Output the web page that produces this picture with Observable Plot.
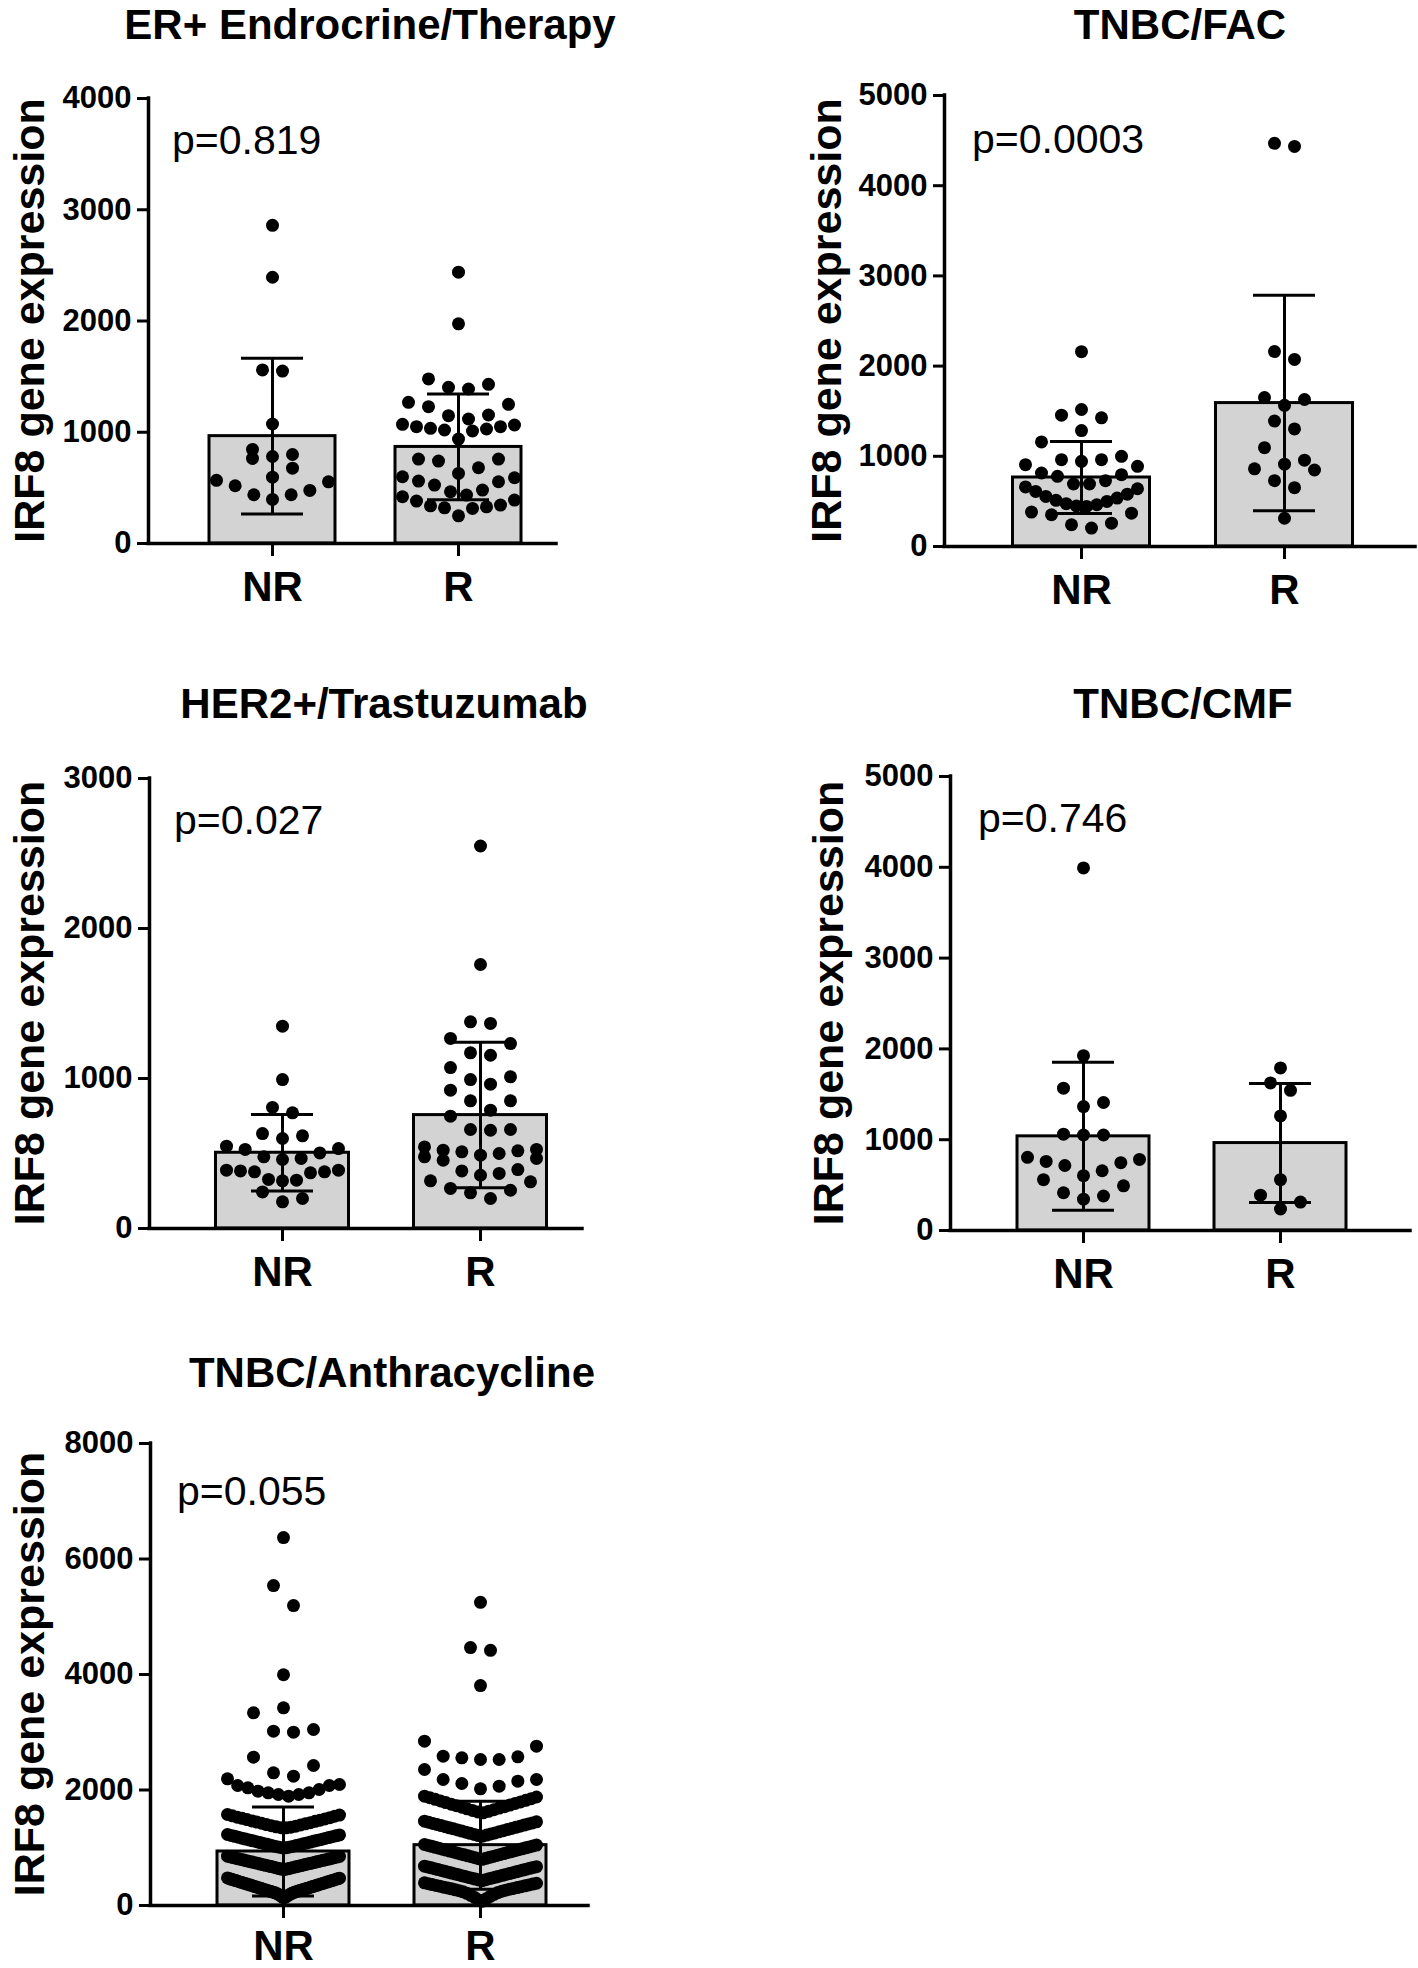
<!DOCTYPE html>
<html>
<head>
<meta charset="utf-8">
<script src="https://cdn.jsdelivr.net/npm/d3@7"></script>
<script src="https://cdn.jsdelivr.net/npm/@observablehq/plot@0.6"></script>
<style>
  html, body { margin: 0; padding: 0; background: #fff; }
  #page { position: relative; width: 1418px; height: 1968px; overflow: hidden;
          font-family: "Liberation Sans", Arial, Helvetica, sans-serif; color: #000; }
  #page svg.panel { position: absolute; overflow: visible; }
  #overlay { position: absolute; left: 0; top: 0; pointer-events: none; }
</style>
</head>
<body>
<div id="page"></div>
<script>
// ---------------- data ----------------
const groups = ["NR", "R"];
const yLabel = "IRF8 gene expression";
const titles = ["ER+ Endrocrine/Therapy", "TNBC/FAC", "HER2+/Trastuzumab", "TNBC/CMF", "TNBC/Anthracycline"];
const pValues = ["p=0.819", "p=0.0003", "p=0.027", "p=0.746", "p=0.055"];

// y-axis tick labels for each panel
const erTicks   = [0, 1000, 2000, 3000, 4000];
const facTicks  = [0, 1000, 2000, 3000, 4000, 5000];
const her2Ticks = [0, 1000, 2000, 3000];
const cmfTicks  = [0, 1000, 2000, 3000, 4000, 5000];
const anthTicks = [0, 2000, 4000, 6000, 8000];

// bar heights (mean) and error bars (SD), [NR, R]
const erMean = [965, 868],    erSD = [700, 475];
const facMean = [765, 1590],  facSD = [400, 1195];
const her2Mean = [505, 756],  her2SD = [255, 485];
const cmfMean = [1037, 963],  cmfSD = [815, 655];
const anthMean = [935, 1045], anthSD = [770, 762];

// individual samples
const erNR = [2860, 2393, 1560, 1550, 1074, 846, 800, 782, 765, 677, 596, 568, 554, 519, 477, 438, 438, 396];
const erR = [2439, 1975, 1479, 1431, 1404, 1389, 1269, 1251, 1230, 1155, 1149, 1119, 1071, 1065, 1050, 1050,
  1035, 1029, 1020, 1011, 939, 759, 759, 741, 681, 630, 600, 591, 561, 555, 525, 480, 465, 435, 420, 390,
  381, 345, 339, 330, 321, 315, 249];

const facNR = [2160, 1519, 1456, 1426, 1285, 1159, 1000, 963, 963, 944, 907, 889, 815, 796, 778, 730, 693, 693,
  660, 640, 611, 580, 555, 537, 512, 500, 475, 463, 450, 444, 382, 370, 352, 259, 241, 204];
const facR = [4470, 4435, 2161, 2074, 1652, 1630, 1565, 1391, 1304, 1096, 957, 913, 861, 848, 730, 652, 313];

const her2NR = [1349, 993, 807, 771, 633, 618, 600, 549, 533, 527, 504, 478, 467, 460, 389, 389, 384, 378, 378,
  371, 327, 322, 318, 244, 200, 178];
const her2R = [2550, 1760, 1378, 1367, 1267, 1233, 1171, 1155, 1073, 1011, 993, 962, 922, 851, 851, 789, 749,
  660, 655, 660, 544, 527, 522, 518, 511, 500, 489, 478, 467, 455, 393, 384, 367, 355, 318, 311, 267, 255, 238, 200];

const cmfNR = [3993, 1925, 1567, 1410, 1365, 1061, 1052, 1052, 806, 783, 761, 747, 716, 658, 604, 560, 492, 416, 380, 345];
const cmfR = [1790, 1625, 1544, 1262, 560, 389, 313, 237];

const anthNR = [6371, 5540, 5194, 3996, 3423, 3336, 3048, 3019, 3001, 2569, 2424, 2297, 2240, 2193,
  2095, 2078, 2078, 2038, 2009, 1980, 1951, 1951, 1922, 1922, 1893,
  1576, 1566, 1552, 1545, 1530, 1521, 1509, 1499, 1488, 1478, 1465, 1458, 1444, 1435, 1424, 1414, 1401, 1394,
  1381, 1373, 1363, 1356, 1348, 1345,
  1229, 1222, 1212, 1207, 1197, 1191, 1182, 1176, 1166, 1161, 1151, 1145, 1136, 1130, 1120, 1115, 1105, 1099,
  1090, 1084, 1074, 1069, 1059, 1053, 1044, 1038, 1028, 1023, 1013, 1009, 1001, 998,
  854, 849, 842, 838, 830, 827, 819, 816, 808, 804, 797, 793, 786, 782, 774, 771, 763, 760, 752, 748, 741, 737,
  730, 726, 718, 715, 707, 704, 696, 692, 685, 681, 674, 670, 662, 659, 651, 647, 639, 635, 627, 623,
  478, 473, 465, 462, 454, 450, 443, 439, 431, 428, 420, 417, 409, 405, 398, 394, 386, 383, 375, 372, 364, 360,
  353, 349, 342, 338, 330, 327, 319, 316, 308, 304, 297, 293, 286, 282, 274, 271, 263, 260, 252, 249, 241, 238,
  230, 227, 219, 211, 204, 192, 183, 169, 159, 145, 135];
const anthR = [5249, 4467, 4418, 3809, 2846, 2759, 2586, 2574, 2557, 2528, 2528, 2355, 2182, 2182, 2153, 2113, 2066, 2020,
  1893, 1879, 1867, 1850, 1839, 1821, 1810, 1794, 1782, 1767, 1755, 1739, 1728, 1712, 1701, 1687, 1674, 1659,
  1647, 1631, 1620, 1605,
  1460, 1449, 1442, 1430, 1422, 1411, 1403, 1392, 1384, 1372, 1365, 1353, 1345, 1334, 1327, 1315, 1307, 1296,
  1288, 1277, 1269, 1257, 1250, 1238, 1230, 1219, 1211, 1200,
  1056, 1047, 1041, 1030, 1024, 1014, 1008, 998, 991, 981, 975, 965, 959, 948, 942, 932, 926, 916, 909, 899,
  893, 883, 877, 866, 860, 850, 844, 834, 827, 817, 811, 800,
  681, 673, 667, 658, 652, 643, 637, 628, 622, 613, 607, 598, 592, 583, 577, 568, 562, 553, 547, 538, 532, 523,
  517, 508, 502, 493, 487, 478, 472, 463, 457, 448, 442, 430,
  392, 385, 377, 371, 362, 356, 348, 341, 333, 326, 318, 311, 303, 296, 288, 281, 272, 265, 257, 248, 236, 224,
  210, 194, 176, 158, 139, 118, 96, 75];

// ---------------- layout (pixels on the page) ----------------
const panels = [
  {title: titles[0], p: pValues[0], nr: erNR, r: erR, mean: erMean, sd: erSD, ticks: erTicks,
   left: 148, right: 556, top: 98, bottom: 543, c: [272, 458], barHalf: 63, pad: 15,
   titleX: 370, titleY: 39, labX: 44, pX: 172, pY: 154},
  {title: titles[1], p: pValues[1], nr: facNR, r: facR, mean: facMean, sd: facSD, ticks: facTicks,
   left: 944, right: 1415, top: 95, bottom: 546, c: [1081, 1284], barHalf: 68.5, pad: 15,
   titleX: 1180, titleY: 39, labX: 841, pX: 972, pY: 153},
  {title: titles[2], p: pValues[2], nr: her2NR, r: her2R, mean: her2Mean, sd: her2SD, ticks: her2Ticks,
   left: 149, right: 582, top: 778, bottom: 1228, c: [282, 480], barHalf: 66.5, pad: 15,
   titleX: 384, titleY: 718, labX: 44, pX: 174, pY: 834},
  {title: titles[3], p: pValues[3], nr: cmfNR, r: cmfR, mean: cmfMean, sd: cmfSD, ticks: cmfTicks,
   left: 950, right: 1410, top: 776, bottom: 1230, c: [1083, 1280], barHalf: 66, pad: 15,
   titleX: 1183, titleY: 718, labX: 843, pX: 978, pY: 832},
  {title: titles[4], p: pValues[4], nr: anthNR, r: anthR, mean: anthMean, sd: anthSD, ticks: anthTicks,
   left: 150, right: 588, top: 1443, bottom: 1905, c: [283, 480], barHalf: 66, pad: 12,
   titleX: 392, titleY: 1387, labX: 44, pX: 177, pY: 1505}
];

const FONT = '"Liberation Sans", Arial, Helvetica, sans-serif';
const page = document.getElementById("page");

// centre-out order of a set of slot positions
function centreOut(slots) {
  return slots.slice().sort((a, b) => Math.abs(a) - Math.abs(b) || b - a);
}

// GraphPad-like scatter arrangement: values are grouped into horizontal rows,
// the lowest value of a row sits in the centre, the others alternate outwards;
// crowded rows are squeezed into the bar width.
function arrange(values, pxPerValue, rowPx = 20, maxW = 112, maxSp = 20) {
  const s = values.slice().sort((a, b) => a - b);
  const out = [];
  let i = 0;
  while (i < s.length) {
    const start = s[i];
    const row = [];
    while (i < s.length && (s[i] - start) * pxPerValue < rowPx) row.push(s[i++]);
    const n = row.length;
    const sp = n > 1 ? Math.min(maxSp, maxW / (n - 1)) : 0;
    const slots = centreOut(d3.range(n).map(j => j - (n - 1) / 2));
    row.forEach((v, k) => out.push({v, off: slots[k] * sp}));
  }
  return out;
}

const mL = 90, mR = 12, mT = 20, mB = 80;

panels.forEach(P => {
  const yMax = P.ticks[P.ticks.length - 1];
  const ppu = P.c[1] - P.c[0];                   // pixels per category step
  const pxPerValue = (P.bottom - P.top) / yMax;
  const xd = [(P.left - P.c[0]) / ppu, (P.right - P.c[0]) / ppu];
  const width = mL + (P.right - P.left) + mR;
  const height = mT + (P.bottom - P.top) + mB;
  const bw = P.barHalf / ppu;
  const cap = 31 / ppu;

  const stats = groups.map((g, i) => ({g, i, mean: P.mean[i], sd: P.sd[i]}));
  const dots = [
    ...arrange(P.nr, pxPerValue).map(d => ({...d, i: 0})),
    ...arrange(P.r, pxPerValue).map(d => ({...d, i: 1}))
  ];
  const caps = stats.flatMap(d => [{i: d.i, y: d.mean + d.sd}, {i: d.i, y: Math.max(0, d.mean - d.sd)}]);

  const svg = Plot.plot({
    width, height,
    marginLeft: mL, marginRight: mR, marginTop: mT, marginBottom: mB,
    x: {type: "linear", domain: xd, axis: null},
    y: {type: "linear", domain: [0, yMax], axis: null},
    style: {fontFamily: FONT, background: "transparent", color: "#000", overflow: "visible"},
    marks: [
      Plot.rect(stats, {x1: d => d.i - bw, x2: d => d.i + bw, y1: 0, y2: "mean",
                        fill: "#d3d3d3", stroke: "#000", strokeWidth: 3}),
      Plot.ruleX(stats, {x: "i", y1: d => Math.max(0, d.mean - d.sd), y2: d => d.mean + d.sd,
                         stroke: "#000", strokeWidth: 3}),
      Plot.ruleY(caps, {y: "y", x1: d => d.i - cap, x2: d => d.i + cap, stroke: "#000", strokeWidth: 3}),
      Plot.dot(dots, {x: d => d.i + d.off / ppu, y: "v", r: 6.5, fill: "#000", stroke: "none"}),
      Plot.ruleX([xd[0]], {y1: 0, y2: yMax, stroke: "#000", strokeWidth: 3.5, strokeLinecap: "square"}),
      Plot.ruleY([0], {x1: xd[0], x2: xd[1], stroke: "#000", strokeWidth: 3.5, strokeLinecap: "square"}),
      Plot.axisY(P.ticks, {tickSize: 11, tickPadding: 6, fontSize: 31, fontWeight: "bold",
                           strokeWidth: 3, tickFormat: d => String(d), label: null}),
      Plot.axisX([0, 1], {tickSize: 13, tickPadding: P.pad, fontSize: 42, fontWeight: "bold",
                          strokeWidth: 3, tickFormat: i => groups[i], label: null})
    ]
  });
  svg.classList.add("panel");
  svg.style.left = (P.left - mL) + "px";
  svg.style.top = (P.top - mT) + "px";
  page.appendChild(svg);
});

// titles, y-axis labels and p-values
const NS = "http://www.w3.org/2000/svg";
const ov = document.createElementNS(NS, "svg");
ov.setAttribute("id", "overlay");
ov.setAttribute("width", 1418);
ov.setAttribute("height", 1968);
function addText(str, x, y, size, weight, anchor, rotate) {
  const t = document.createElementNS(NS, "text");
  t.textContent = str;
  t.setAttribute("x", x);
  t.setAttribute("y", y);
  t.setAttribute("font-size", size);
  t.setAttribute("font-weight", weight);
  t.setAttribute("font-family", FONT);
  t.setAttribute("text-anchor", anchor);
  t.setAttribute("fill", "#000");
  if (rotate) t.setAttribute("transform", `rotate(-90 ${x} ${y})`);
  ov.appendChild(t);
}
panels.forEach(P => {
  addText(P.title, P.titleX, P.titleY, 42, "bold", "middle");
  addText(P.p, P.pX, P.pY, 41, "normal", "start");
  addText(yLabel, P.labX, (P.top + P.bottom) / 2, 43, "bold", "middle", true);
});
page.appendChild(ov);
</script>
</body>
</html>
